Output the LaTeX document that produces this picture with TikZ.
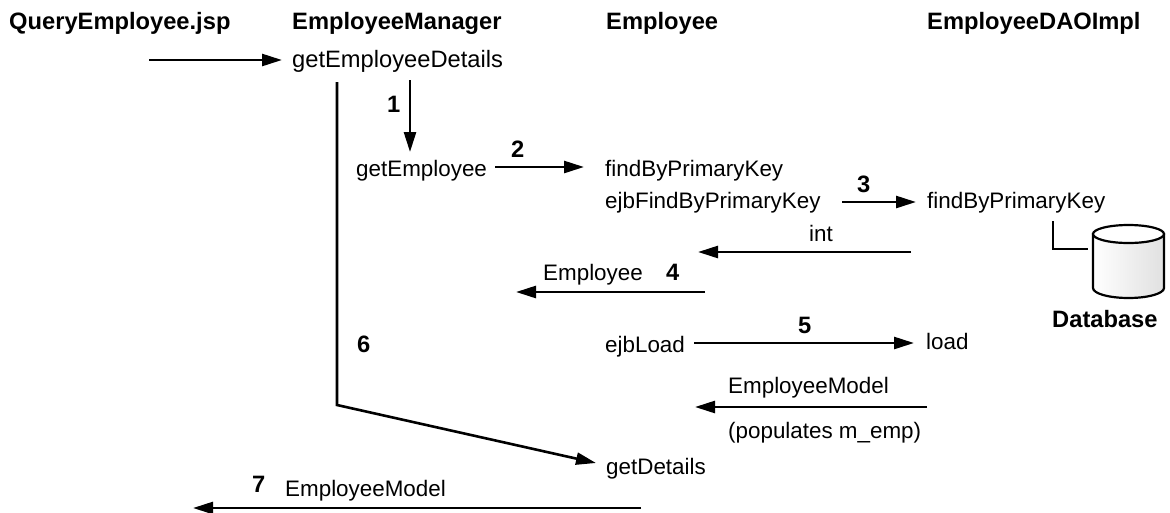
\documentclass[tikz,border=0pt]{standalone}
\usepackage{fontspec}
\setmainfont{Liberation Sans}
\usetikzlibrary{arrows.meta}
\tikzset{
 px/.style={x=1pt,y=-1pt},
 lbl/.style={inner sep=0pt,anchor=base west,font=\fontsize{22.4}{28}\selectfont},
 big/.style={lbl,font=\fontsize{23.7}{28}\selectfont},
 bld/.style={lbl,font=\fontsize{23.7}{28}\selectfont\bfseries},
 arr/.style={line width=2.6pt,-{Triangle[length=20pt,width=12pt]}},
 ln/.style={line width=2.6pt}
}
\begin{document}
\begin{tikzpicture}[px]
\useasboundingbox (0,0) rectangle (1170,512);
\node[bld] (h1) at (9,29) {QueryEmployee.jsp};
\node[bld] (h2) at (292,29) {EmployeeManager};
\node[bld] (h3) at (606,29) {Employee};
\node[bld] (h4) at (927,29) {EmployeeDAOImpl};
\node[big] (ged) at (292,67) {getEmployeeDetails};
\node[lbl] (ge) at (356,176) {getEmployee};
\node[lbl] (fb1) at (605,176) {findByPrimaryKey};
\node[lbl] (efb) at (605,208) {ejbFindByPrimaryKey};
\node[lbl] (fb2) at (927,208) {findByPrimaryKey};
\node[lbl] (int) at (809,241) {int};
\node[lbl] (empl) at (543,280) {Employee};
\node[lbl] (ejl) at (605,352) {ejbLoad};
\node[lbl] (load) at (926,349) {load};
\node[lbl] (em1) at (728,393) {EmployeeModel};
\node[lbl] (pop) at (728,438) {(populates m\_emp)};
\node[lbl] (gd) at (606,474) {getDetails};
\node[lbl] (em2) at (285,496) {EmployeeModel};
\node[bld] (n1) at (387,112) {1};
\node[bld] (n2) at (511,157) {2};
\node[bld] (n3) at (857,192) {3};
\node[bld] (n4) at (666,280) {4};
\node[bld] (n5) at (798,333) {5};
\node[bld] (n6) at (357,352) {6};
\node[bld] (n7) at (252,492) {7};
\node[bld] (db) at (1052,327) {Database};
\coordinate (a0) at (149,60);
\coordinate (a0e) at (282,60);
\draw[arr] (a0) -- (a0e);
\coordinate (a1) at (410,80); \coordinate (a1e) at (410,152);
\draw[arr] (a1) -- (a1e);
\coordinate (a2) at (495,167); \coordinate (a2e) at (584,167);
\draw[arr] (a2) -- (a2e);
\coordinate (a3) at (842,202); \coordinate (a3e) at (916,202);
\draw[arr] (a3) -- (a3e);
\coordinate (a4) at (911,252); \coordinate (a4e) at (698,252);
\draw[arr] (a4) -- (a4e);
\coordinate (a5) at (705,292); \coordinate (a5e) at (516,292);
\draw[arr] (a5) -- (a5e);
\coordinate (a6) at (694,343); \coordinate (a6e) at (914,343);
\draw[arr] (a6) -- (a6e);
\coordinate (a7) at (927,407); \coordinate (a7e) at (695,407);
\draw[arr] (a7) -- (a7e);
\coordinate (a8) at (337,82); \coordinate (a8b) at (337,405); \coordinate (a8e) at (596,463);
\draw[arr] (a8) -- (a8b) -- (a8e);
\coordinate (a9) at (641,508); \coordinate (a9e) at (193,508);
\draw[arr] (a9) -- (a9e);
\coordinate (c1) at (1053,221); \coordinate (c2) at (1053,249); \coordinate (c3) at (1088,249);
\draw[ln] (c1) -- (c2) -- (c3);
\draw[line width=2.2pt,left color=white,right color=black!12] (1093,234) -- (1093,288) arc[start angle=180,end angle=360,x radius=35.5,y radius=-10] -- (1164,234) -- cycle;
\draw[line width=2.2pt,fill=white] (1128.5,234) ellipse[x radius=35.5,y radius=9];
\end{tikzpicture}
\end{document}
